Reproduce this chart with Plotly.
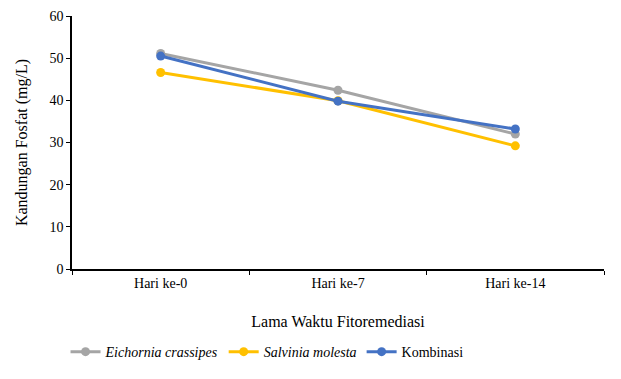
import plotly.graph_objects as go

categories = ["Hari ke-0", "Hari ke-7", "Hari ke-14"]
eichornia = [51.1, 42.4, 32.0]
salvinia = [46.6, 39.9, 29.2]
kombinasi = [50.5, 39.8, 33.2]

series = [
    ("<i>Eichornia crassipes</i>", eichornia, "#A5A5A5"),
    ("<i>Salvinia molesta</i>", salvinia, "#FFC000"),
    ("Kombinasi", kombinasi, "#4472C4"),
]

fig = go.Figure()
for name, vals, color in series:
    fig.add_trace(go.Scatter(
        x=categories, y=vals, name=name, mode="lines+markers",
        line=dict(color=color, width=3),
        marker=dict(color=color, size=9),
    ))

font = "Liberation Serif, Times New Roman, serif"
fig.update_layout(
    width=621, height=379,
    margin=dict(l=72, r=17, t=16, b=110, autoexpand=False),
    paper_bgcolor="white", plot_bgcolor="white",
    font=dict(family=font, size=14, color="black"),
    showlegend=True,
    legend=dict(orientation="h", x=0.43, xanchor="center", xref="container",
                y=0.071, yanchor="middle", yref="container",
                font=dict(family=font, size=14), itemwidth=30, tracegroupgap=0),
    xaxis=dict(
        title=dict(text="Lama Waktu Fitoremediasi", font=dict(family=font, size=16), standoff=26),
        automargin=False,
        showline=True, linecolor="black", linewidth=1.5,
        ticks="outside", ticklen=4, tickcolor="black",
        tickson="boundaries", showgrid=False,
        range=[-0.5, 2.5], tickfont=dict(family=font, size=14),
    ),
    yaxis=dict(
        title=dict(text="Kandungan Fosfat (mg/L)", font=dict(family=font, size=16), standoff=18),
        automargin=False,
        range=[0, 60], dtick=10,
        showline=True, linecolor="black", linewidth=1.5,
        ticks="outside", ticklen=4, tickcolor="black",
        showgrid=False, zeroline=False, tickfont=dict(family=font, size=14),
    ),
)

fig.write_html("out.html", config={"displayModeBar": False},
               post_script="document.body.style.margin='0';")
